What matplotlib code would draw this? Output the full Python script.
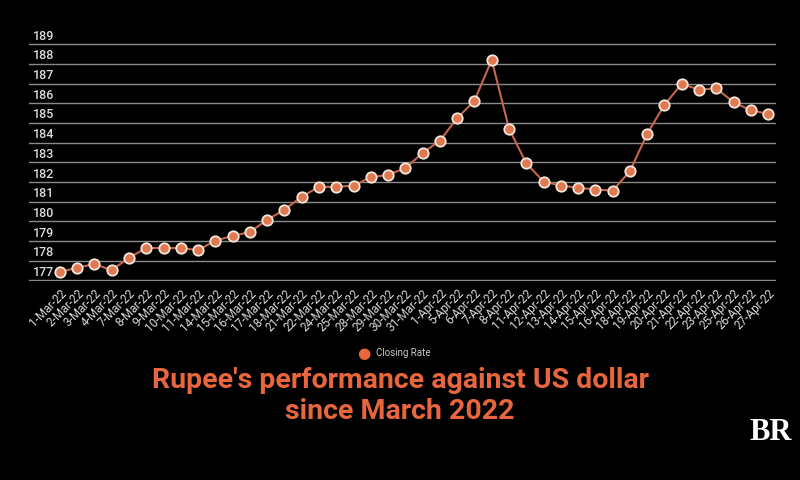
import matplotlib
matplotlib.use("Agg")
import matplotlib.pyplot as plt
import matplotlib.transforms as mt

dates = ["1-Mar-22","2-Mar-22","3-Mar-22","4-Mar-22","7-Mar-22","8-Mar-22","9-Mar-22","10-Mar-22",
         "11-Mar-22","14-Mar-22","15-Mar-22","16-Mar-22","17-Mar-22","18-Mar-22","21-Mar-22","22-Mar-22",
         "24-Mar-22","25-Mar-22","28-Mar-22","29-Mar-22","30-Mar-22","31-Mar-22","1-Apr-22","5-Apr-22",
         "6-Apr-22","7-Apr-22","8-Apr-22","11-Apr-22","12-Apr-22","13-Apr-22","14-Apr-22","15-Apr-22",
         "16-Apr-22","18-Apr-22","19-Apr-22","20-Apr-22","21-Apr-22","22-Apr-22","23-Apr-22","25-Apr-22",
         "26-Apr-22","27-Apr-22"]
closing_rate = [177.42,177.64,177.83,177.51,178.15,178.64,178.64,178.64,178.53,179.02,179.25,179.46,
                180.07,180.59,181.25,181.75,181.75,181.81,182.24,182.36,182.70,183.47,184.10,185.24,
                186.12,188.20,184.71,182.95,182.02,181.81,181.71,181.61,181.56,182.54,184.44,185.92,
                186.98,186.69,186.76,186.05,185.64,185.46]
yticks = list(range(177, 190))

fig = plt.figure(figsize=(8, 4.8), dpi=100, facecolor="black")
ax = fig.add_axes([0.036, 0.414, 0.934, 0.496], facecolor="black")
x = list(range(len(dates)))
ax.plot(x, closing_rate, color="#c8664a", lw=1.5, marker="o", ms=7.5,
        markerfacecolor="#e07850", markeredgecolor="#f5e6dc", markeredgewidth=1.3, zorder=3)
ax.set_xlim(-1.8, len(dates) - 0.54)
ax.set_ylim(176.95, 189.05)
ax.set_yticks(yticks)
ax.set_yticklabels([str(v) for v in yticks], fontsize=9, color="#dddddd",
                   ha="left", va="bottom", fontfamily="Roboto", fontweight="medium")
ax.tick_params(axis="y", length=0, pad=0)
for lab in ax.get_yticklabels():
    lab.set_transform(lab.get_transform() + mt.ScaledTranslation(3/72, 1/72, fig.dpi_scale_trans))
ax.grid(axis="y", color="#8a8a8a", lw=1)
ax.set_axisbelow(True)
ax.set_xticks(x)
ax.set_xticklabels(dates, rotation=45, ha="right", rotation_mode="anchor", fontsize=8.5,
                   color="#dddddd", fontfamily="Roboto")
ax.tick_params(axis="x", length=0, pad=4)
for s in ax.spines.values():
    s.set_visible(False)

fig.text(0.455, 0.264, "●", color="#e8663d", fontsize=11, ha="center", va="center")
fig.text(0.47, 0.264, "Closing Rate", color="#cccccc", fontsize=7, ha="left", va="center",
         fontfamily="Roboto")
fig.text(0.5, 0.207, "Rupee's performance against US dollar", color="#e8663d", fontsize=20.5,
         fontweight="bold", ha="center", va="center", fontfamily="Roboto")
fig.text(0.5, 0.143, "since March 2022", color="#e8663d", fontsize=20.5,
         fontweight="bold", ha="center", va="center", fontfamily="Roboto")
fig.text(0.99, 0.1, "BR", color="white", fontsize=22, fontweight="bold", ha="right",
         va="center", fontfamily="Liberation Serif")
fig.savefig("out.png", dpi=100, facecolor="black")
